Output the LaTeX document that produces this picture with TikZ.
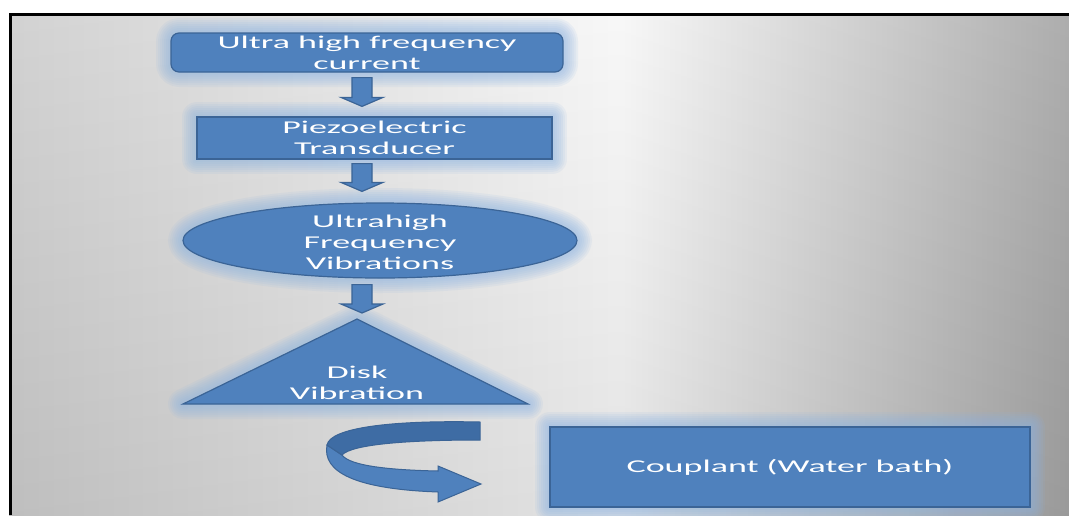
\documentclass[tikz,border=0pt]{standalone}
\usepackage{fontspec}
\setmainfont{Carlito}
\usepackage{graphicx}
\usepackage{xcolor}
\usetikzlibrary{shapes.geometric, calc}
\definecolor{boxblue}{HTML}{4F81BD}
\definecolor{boxedge}{HTML}{3B6496}
\definecolor{glowblue}{HTML}{8DB4E2}
\definecolor{backband}{HTML}{3E6CA4}
\newcommand\stretchtext[1]{\scalebox{2}[1]{#1}}
\tikzset{
    halo/.style={preaction={draw=glowblue, line width=#1, opacity=0.11, line join=round}},
    glow/.style={halo=30pt, halo=26pt, halo=22pt, halo=18pt, halo=14pt, halo=10pt, halo=6pt},
    base/.style={draw=boxedge, line width=1.2pt, fill=boxblue, inner sep=0pt},
    block/.style={base, glow, rectangle},
    roundblock/.style={block, rounded corners=8pt},
    oval/.style={base, glow, ellipse},
    txt/.style={text=white, font=\fontsize{18}{21}\selectfont, align=center},
    blockarrow/.style={base, to path={let \p1=(\tikztostart), \p2=(\tikztotarget) in
        (\x1-10pt,\y1) -- (\x1+10pt,\y1) -- (\x1+10pt,\y2+9pt) -- (\x1+21pt,\y2+9pt)
        -- (\x1,\y2) -- (\x1-21pt,\y2+9pt) -- (\x1-10pt,\y2+9pt) -- cycle}}
}

\begin{document}
\begin{tikzpicture}[x=1pt, y=-1pt]
    % page and slide background
    \fill[white] (0,0) rectangle (1069,515);
    \useasboundingbox (0,0) rectangle (1069,515);
    \begin{scope}
        \clip (9,14) rectangle (1069,515);
        \shade[left color=black!19, right color=black!46, middle color=black!3] (9,14) rectangle (1231,515);
        \shade[top color=white, bottom color=black, opacity=0.08] (9,14) rectangle (1069,515);
    \end{scope}
    \draw[line width=2.7pt] (10.3,515) -- (10.3,14.5) -- (1069,14.5);

    \node[roundblock, txt, minimum width=392pt, minimum height=39pt] (ultra) at (367,52.5)
        {\stretchtext{Ultra high frequency}\\\stretchtext{current}};
    \node[block, txt, minimum width=355pt, minimum height=42pt] (piezo) at (374.5,138)
        {\stretchtext{Piezoelectric}\\\stretchtext{Transducer}};
    \node[oval, minimum width=394pt, minimum height=75pt] (vibr) at (380,240.5) {};
    \node[txt] (vibrtext) at ([yshift=-2pt]vibr.center)
        {\stretchtext{Ultrahigh}\\\stretchtext{Frequency}\\\stretchtext{Vibrations}};

    % disk triangle
    \coordinate (apex) at (357,319);
    \coordinate (baseR) at (528,404);
    \coordinate (baseL) at (183,404);
    \draw[base, glow] (apex) -- (baseR) -- (baseL) -- cycle;
    \node[txt] (disk) at (357,383) {\stretchtext{Disk}\\\stretchtext{Vibration}};

    \node[block, txt, minimum width=480pt, minimum height=80pt] (couplant) at (790,467)
        {\stretchtext{Couplant (Water bath)}};

    \draw[blockarrow] ([xshift=-5pt,yshift=-5pt]ultra.south) to ([yshift=10pt]piezo.north);
    \draw[blockarrow] ([xshift=-12.5pt,yshift=-4pt]piezo.south) to ([yshift=11pt]vibr.north);
    \draw[blockarrow] ([xshift=-18pt,yshift=-6pt]vibr.south) to ([yshift=6pt]apex);

    % curved arrow towards the bath
    \draw[base, line width=1pt] (327,445) .. controls (322,472) and (355,489) .. (438,492)
        -- (438,502) -- (481,484) -- (438,466) -- (438,471)
        .. controls (390,470) and (350,466) .. (342,455) -- cycle;
    \draw[base, fill=backband, line width=1pt] (480,422) .. controls (390,420) and (330,428) .. (327,445)
        -- (342,455) .. controls (352,444) and (410,440) .. (480,440) -- cycle;
\end{tikzpicture}
\end{document}
